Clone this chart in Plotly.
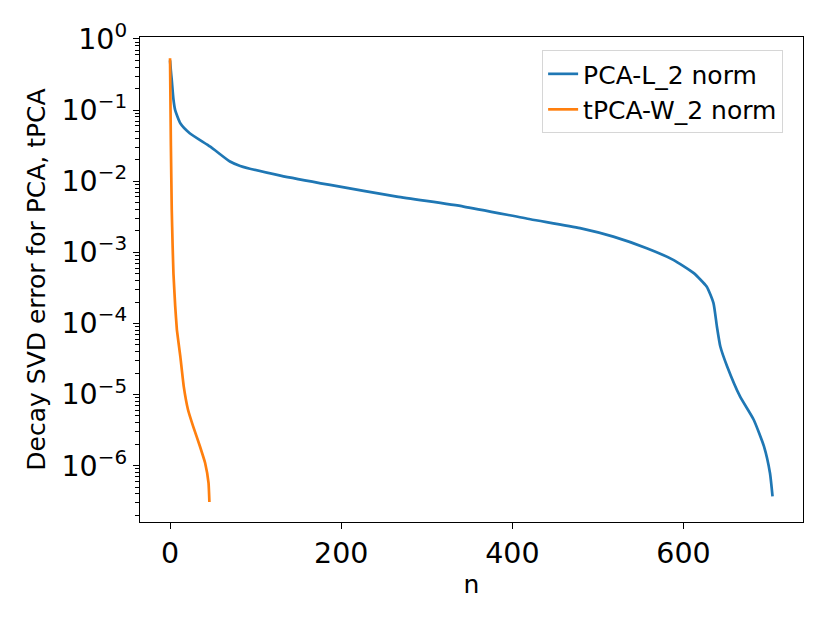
#Decay of the SVD error, PCA vs tPCA (log scale)

import plotly.graph_objects as go

#data
pca_n = [0, 1, 2, 4, 6, 12, 23, 47, 70, 82, 129, 187, 265, 343, 421, 479, 518, 557,
         588, 612, 627, 635, 639, 643, 651, 666, 682, 694, 701, 704]
pca_err = [0.50, 0.355, 0.265, 0.141, 0.100, 0.0653, 0.0473, 0.0306, 0.0189, 0.0164,
           0.0120, 0.00887, 0.00608, 0.00440, 0.00292, 0.00219, 0.00166, 0.00114,
           7.83e-4, 5.09e-4, 3.30e-4, 1.93e-4, 9.06e-5, 4.73e-5, 2.48e-5, 9.40e-6,
           4.42e-6, 1.86e-6, 7.87e-7, 3.69e-7]

tpca_n = [0, 1, 2, 3, 4, 6, 8, 12, 16, 21, 27, 35, 41, 45, 46]
tpca_err = [0.535, 0.0316, 0.00398, 1.26e-3, 5.0e-4, 1.78e-4, 8.13e-5, 3.43e-5,
            1.30e-5, 6.11e-6, 3.56e-6, 1.86e-6, 1.09e-6, 5.69e-7, 3.08e-7]

series_names = ["PCA-L_2 norm", "tPCA-W_2 norm"]
x_ticks = [0, 200, 400, 600]
y_exponents = [0, -1, -2, -3, -4, -5, -6]

FONT = "DejaVu Sans"

fig = go.Figure()
fig.add_trace(go.Scatter(x=pca_n, y=pca_err, mode="lines", name=series_names[0],
                         line=dict(color="#1f77b4", width=2.7, shape="spline", smoothing=0.5)))
fig.add_trace(go.Scatter(x=tpca_n, y=tpca_err, mode="lines", name=series_names[1],
                         line=dict(color="#ff7f0e", width=2.7, shape="spline", smoothing=0.3)))

#log tick labels in matplotlib style
y_tickvals = [10.0 ** e for e in y_exponents]
y_ticktext = ["10<sup>%s</sup>" % (str(e).replace("-", "\u2212")) for e in y_exponents]
minor_vals = [k * 10.0 ** e for e in range(-7, 1) for k in range(2, 10)]

#page body adds an 8px offset, margins account for it
fig.update_layout(
    width=830, height=623,
    margin=dict(l=132, r=35, t=29, b=109),
    paper_bgcolor="white", plot_bgcolor="white",
    font=dict(family=FONT, color="black"),
    legend=dict(x=0.970, y=0.973, xanchor="right", yanchor="top",
                bgcolor="white", bordercolor="#d6d6d6", borderwidth=1,
                font=dict(size=25, family=FONT)),
)

#x-axis
fig.update_xaxes(
    range=[-35.1, 739.6], tickvals=x_ticks, automargin=False,
    showline=True, linecolor="black", linewidth=1.4, mirror=True,
    ticks="outside", ticklen=6, tickwidth=1.4, tickcolor="black",
    showgrid=False, zeroline=False,
    tickfont=dict(size=28.5, family=FONT),
    title=dict(text="n", font=dict(size=25, family=FONT), standoff=6),
)

#y-axis
fig.update_yaxes(
    type="log", range=[-6.793, 0.028], automargin=False,
    tickvals=y_tickvals, ticktext=y_ticktext,
    showline=True, linecolor="black", linewidth=1.4, mirror=True,
    ticks="outside", ticklen=6, tickwidth=1.4, tickcolor="black",
    minor=dict(tickvals=minor_vals, ticks="outside", ticklen=3.5, tickwidth=1.1, tickcolor="black"),
    showgrid=False, zeroline=False,
    tickfont=dict(size=28.5, family=FONT),
    title=dict(text="Decay SVD error for PCA, tPCA", font=dict(size=25, family=FONT), standoff=8),
)

fig.write_html("out.html")
